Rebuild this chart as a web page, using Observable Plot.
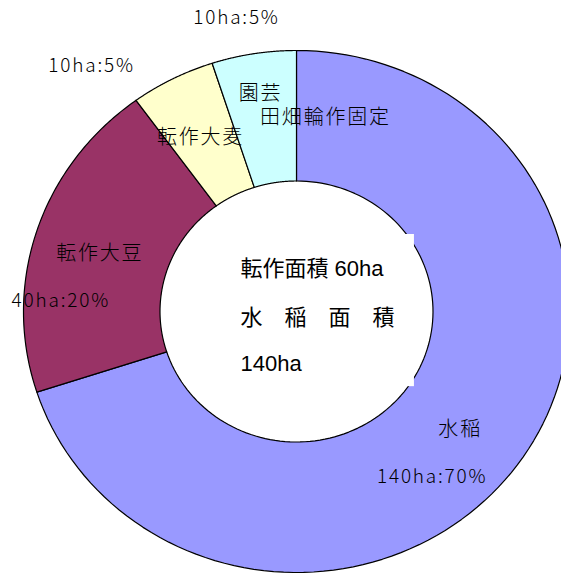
<!DOCTYPE html>
<html><head><meta charset="utf-8">
<script src="https://cdn.jsdelivr.net/npm/d3@7"></script>
<script src="https://cdn.jsdelivr.net/npm/@observablehq/plot@0.6"></script>
<style>
body{margin:0;background:#fff}
#chart{width:561px;height:574px;overflow:hidden}
g[font-family^="Noto"]{letter-spacing:1.8px}
</style>
</head><body><div id="chart"></div>
<script>
// ---- data ----
const categories = ["水稲", "転作大豆", "転作大麦", "園芸"];
const areas = [140, 40, 10, 10];            // ha
const colors = ["#9999FF", "#993366", "#FFFFCC", "#CCFFFF"];
const nameLines = [["水稲"], ["転作大豆"], ["転作大麦"], ["園芸", "田畑輪作固定"]];

// ---- layout ----
const W = 561, H = 574;
const cx = 296, cy = 311, rx = 273, ry = 261, inner = 0.5, labelR = 0.75;
// pixel offsets of name lines and value labels from each slice's label point
const nameOffsets = [[[-2, 3]], [[-2, 3]], [[-3, 1]], [[-4, -25], [61, -1]]];
const valueOffsets = [[-30, 50], [-41, 50], [-112, -71], [-28, -100]];
const centerOffsets = [[-56, -43], [-56, 6], [-56, 52]];
const textBox = {x1: -0.24, x2: 0.432, y1: -0.288, y2: 0.295};

const total = d3.sum(areas);
const data = categories.map((c, i) => ({cat: c, value: areas[i]}));
const arcs = d3.pie().sort(null).value(d => d.value)(data);

// slice outlines
const poly = [];
arcs.forEach(p => {
  const n = 120;
  for (let k = 0; k <= n; k++) {
    const a = p.startAngle + (p.endAngle - p.startAngle) * k / n;
    poly.push({cat: p.data.cat, x: Math.sin(a), y: Math.cos(a)});
  }
  for (let k = n; k >= 0; k--) {
    const a = p.startAngle + (p.endAngle - p.startAngle) * k / n;
    poly.push({cat: p.data.cat, x: inner * Math.sin(a), y: inner * Math.cos(a)});
  }
});

// labels
const nameLabels = [], valueLabels = [];
arcs.forEach((p, i) => {
  const m = (p.startAngle + p.endAngle) / 2;
  const x = labelR * Math.sin(m), y = labelR * Math.cos(m);
  nameLines[i].forEach((t, j) => nameLabels.push({x, y, text: t, dx: nameOffsets[i][j][0], dy: nameOffsets[i][j][1]}));
  valueLabels.push({x, y, text: `${p.data.value}ha:${Math.round(p.data.value / total * 100)}%`,
    dx: valueOffsets[i][0], dy: valueOffsets[i][1]});
});

const tensaku = d3.sum(areas.slice(1));
const centerText = [`転作面積 ${tensaku}ha`, "水　稲　面　積", `${areas[0]}ha`];

const marks = [
  Plot.line(poly, {x: "x", y: "y", z: "cat", fill: "cat", stroke: "#000", strokeWidth: 1.2, curve: "linear-closed"}),
  Plot.rect([textBox], {x1: "x1", x2: "x2", y1: "y1", y2: "y2", fill: "white"}),
  ...nameLabels.map(d => Plot.text([d], {x: "x", y: "y", text: "text", dx: d.dx, dy: d.dy, fontSize: 20,
     fontFamily: "Noto Sans CJK JP", fontWeight: 300, fill: "#000"})),
  ...valueLabels.map(d => Plot.text([d], {x: "x", y: "y", text: "text", dx: d.dx, dy: d.dy, fontSize: 19,
     fontFamily: "Noto Sans CJK JP", fontWeight: 300, fill: "#000"})),
  ...centerText.map((t, i) => Plot.text([{x: 0, y: 0, t}], {x: "x", y: "y", text: "t", dx: centerOffsets[i][0], dy: centerOffsets[i][1],
     textAnchor: "start", fontSize: 22, fontFamily: "Liberation Sans, Arial, 'Noto Sans CJK JP'", fill: "#000"}))
];

const chart = Plot.plot({
  width: W, height: H,
  margin: 0,
  style: {background: "#fff", overflow: "hidden"},
  x: {domain: [-cx / rx, (W - cx) / rx], range: [0, W], axis: null},
  y: {domain: [-(H - cy) / ry, cy / ry], range: [H, 0], axis: null},
  color: {domain: categories, range: colors},
  marks
});
document.getElementById("chart").appendChild(chart);
</script>
</body></html>
